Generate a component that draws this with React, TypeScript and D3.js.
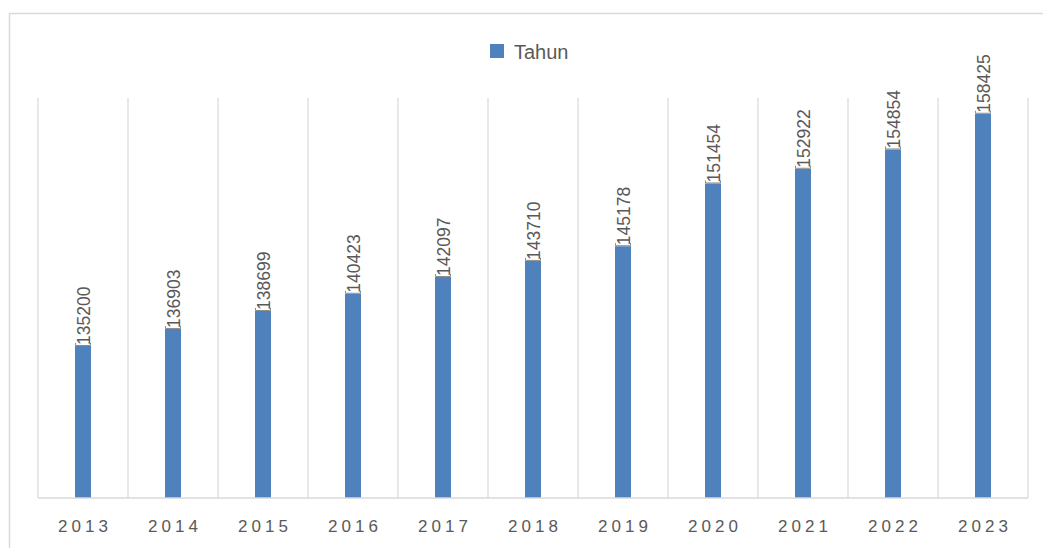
import React from "react";
import * as d3 from "d3";

const categories: string[] = ["2013", "2014", "2015", "2016", "2017", "2018", "2019", "2020", "2021", "2022", "2023"];
const values: number[] = [135200, 136903, 138699, 140423, 142097, 143710, 145178, 151454, 152922, 154854, 158425];
const seriesName = "Tahun";
const yDomain: [number, number] = [120000, 160000];

const W = 1043;
const H = 548;
const plot = { left: 38, right: 1028, top: 98, bottom: 498 };
const barColor = "#4f81bd";
const textColor = "#595959";
const gridColor = "#d9d9d9";
const font = "'Liberation Sans', Arial, sans-serif";

export default function App() {
  const x = d3.scaleBand<string>().domain(categories).range([plot.left, plot.right]).paddingInner(0).paddingOuter(0);
  const y = d3.scaleLinear().domain(yDomain).range([plot.bottom, plot.top]);
  const bw = 16;
  const bounds = [...categories.map((c) => x(c) as number), plot.right];

  return (
    <svg
      width={W}
      height={H}
      style={{ position: "absolute", left: 0, top: 0, background: "#fff" }}
      xmlns="http://www.w3.org/2000/svg"
    >
      {/* outer chart border */}
      <path d={`M9.5,${H} L9.5,13.5 L${W},13.5`} fill="none" stroke={gridColor} strokeWidth={1.5} />

      {/* legend */}
      <rect x={490} y={44} width={14} height={14} fill={barColor} />
      <text x={514} y={58.5} fontFamily={font} fontSize={20} fill={textColor}>
        {seriesName}
      </text>

      {/* vertical gridlines */}
      {bounds.map((b, i) => (
        <line key={i} x1={b} x2={b} y1={plot.top} y2={plot.bottom} stroke={gridColor} strokeWidth={1.2} />
      ))}

      {/* bars */}
      {categories.map((c, i) => {
        const cx = (x(c) as number) + x.bandwidth() / 2;
        const top = y(values[i]);
        return (
          <g key={c}>
            <rect x={cx - bw / 2} y={top} width={bw} height={plot.bottom - top} fill={barColor} />
            <path
              d={`M${cx - bw / 2 + 0.5},${top - 3} L${cx - bw / 2 + 0.5},${top - 0.5} L${cx + bw / 2 - 0.5},${top - 0.5} L${cx + bw / 2 - 0.5},${top - 3}`}
              fill="none"
              stroke="#8c8c8c"
              strokeWidth={1}
            />
            <text
              transform={`translate(${cx + 6.5},${top - 1}) rotate(-90)`}
              fontFamily={font}
              fontSize={17.5}
              fill={textColor}
            >
              {values[i]}
            </text>
          </g>
        );
      })}

      {/* baseline */}
      <line x1={plot.left} x2={plot.right} y1={plot.bottom} y2={plot.bottom} stroke={gridColor} strokeWidth={1.5} />

      {/* x labels */}
      {categories.map((c) => {
        const cx = (x(c) as number) + x.bandwidth() / 2;
        return (
          <text
            key={c}
            x={cx + 2}
            y={532}
            textAnchor="middle"
            fontFamily={font}
            fontSize={17}
            letterSpacing={4}
            fill={textColor}
          >
            {c}
          </text>
        );
      })}
    </svg>
  );
}
